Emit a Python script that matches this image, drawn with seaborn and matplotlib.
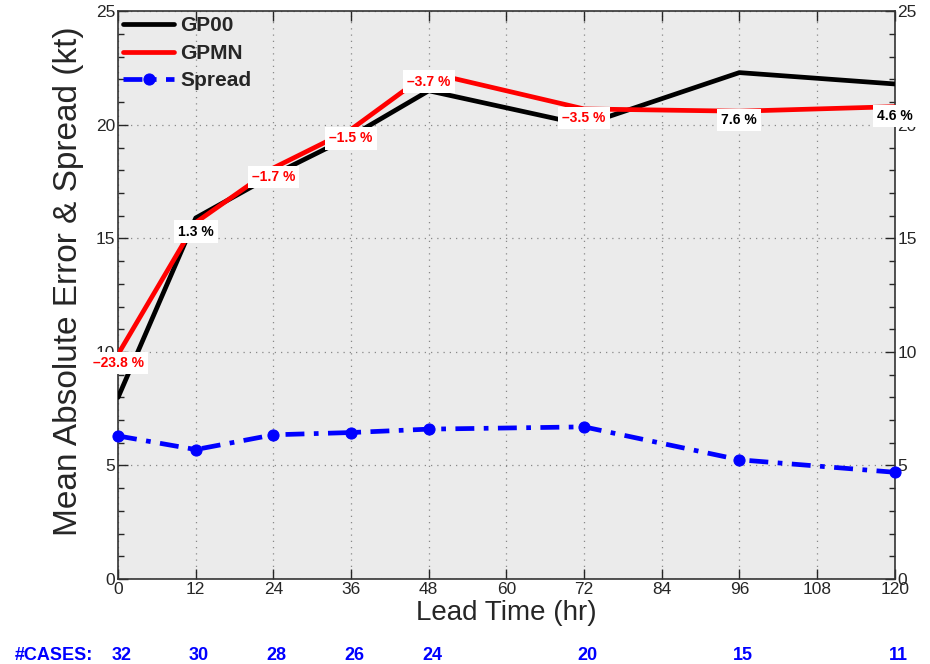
import numpy as np
import pandas as pd
import matplotlib
matplotlib.use("Agg")
import matplotlib.pyplot as plt
import seaborn as sns
from matplotlib.ticker import MultipleLocator

# values
lead_time = [0, 12, 24, 36, 48, 72, 96, 120]
gp00 = [8.0, 15.9, 17.8, 19.5, 21.5, 20.0, 22.3, 21.8]
gpmn = [9.9, 15.7, 18.1, 19.8, 22.3, 20.7, 20.6, 20.8]
spread = [6.3, 5.7, 6.35, 6.45, 6.6, 6.7, 5.25, 4.7]
pct_labels = ["\u201323.8 %", "1.3 %", "\u20131.7 %", "\u20131.5 %",
              "\u20133.7 %", "\u20133.5 %", "7.6 %", "4.6 %"]
n_cases = [32, 30, 28, 26, 24, 20, 15, 11]

sns.set_style("ticks")
plt.rcParams['font.family'] = ['Liberation Sans', 'DejaVu Sans']

df = pd.DataFrame({"lead": lead_time, "GP00": gp00, "GPMN": gpmn, "Spread": spread})

fig = plt.figure(figsize=(9.3, 6.64), dpi=100)
ax = fig.add_axes([0.127, 0.128, 0.835, 0.855])
ax.set_facecolor("#ebebeb")

sns.lineplot(data=df, x="lead", y="GP00", ax=ax, color="black", lw=3.4, label="GP00", zorder=3)
sns.lineplot(data=df, x="lead", y="GPMN", ax=ax, color="red", lw=3.4, label="GPMN", zorder=4)
sns.lineplot(data=df, x="lead", y="Spread", ax=ax, color="blue", lw=3.4, label="Spread",
             linestyle=(0, (4, 2, 1, 2)), marker="o", markersize=8, markeredgecolor="blue",
             clip_on=False, zorder=5)

# percent labels drawn on top of the GPMN line
for x, y, s in zip(lead_time, gpmn, pct_labels):
    col = "red" if s.startswith("\u2013") else "black"
    ax.annotate(s, (x, y), xytext=(0, -6.5), textcoords="offset points",
                ha="center", va="center", fontsize=10, fontweight="bold", color=col,
                bbox=dict(boxstyle="square,pad=0.3", fc="white", ec="none"),
                zorder=6, annotation_clip=False)

ax.set_xlim(0, 120)
ax.set_ylim(0, 25)
ax.set_xticks(np.arange(0, 121, 12))
ax.set_yticks(np.arange(0, 26, 5))
ax.yaxis.set_minor_locator(MultipleLocator(1))
ax.grid(True, which="major", color="#888888", linestyle=(0, (1, 4)), lw=0.9)
ax.tick_params(which="both", direction="in", top=True, right=True,
               labelright=True, labelsize=12.5, pad=2)
ax.tick_params(which="major", length=7, width=1)
ax.tick_params(which="minor", length=4, width=1)
for sp in ax.spines.values():
    sp.set_linewidth(1.2)
    sp.set_color("#333333")

ax.set_xlabel("Lead Time (hr)", fontsize=20, labelpad=2)
ax.set_ylabel("Mean Absolute Error & Spread (kt)", fontsize=24)
ax.yaxis.set_label_coords(-0.044, 0.525)

leg = ax.legend(loc="upper left", frameon=False, fontsize=15, handlelength=2.45,
                borderaxespad=0.1, borderpad=0.15, labelspacing=0.4, handletextpad=0.3)
for t in leg.get_texts():
    t.set_fontweight("bold")

# number of cases under each lead time
tr = ax.get_xaxis_transform()
ax.text(-0.133, -0.135, "#CASES:", transform=ax.transAxes, ha="left", va="center",
        fontsize=13, fontweight="bold", color="blue")
for x, n in zip(lead_time, n_cases):
    ax.text(x + 0.5, -0.135, str(n), transform=tr, ha="center", va="center",
            fontsize=13, fontweight="bold", color="blue", clip_on=False)

fig.savefig("out.png", dpi=100)
